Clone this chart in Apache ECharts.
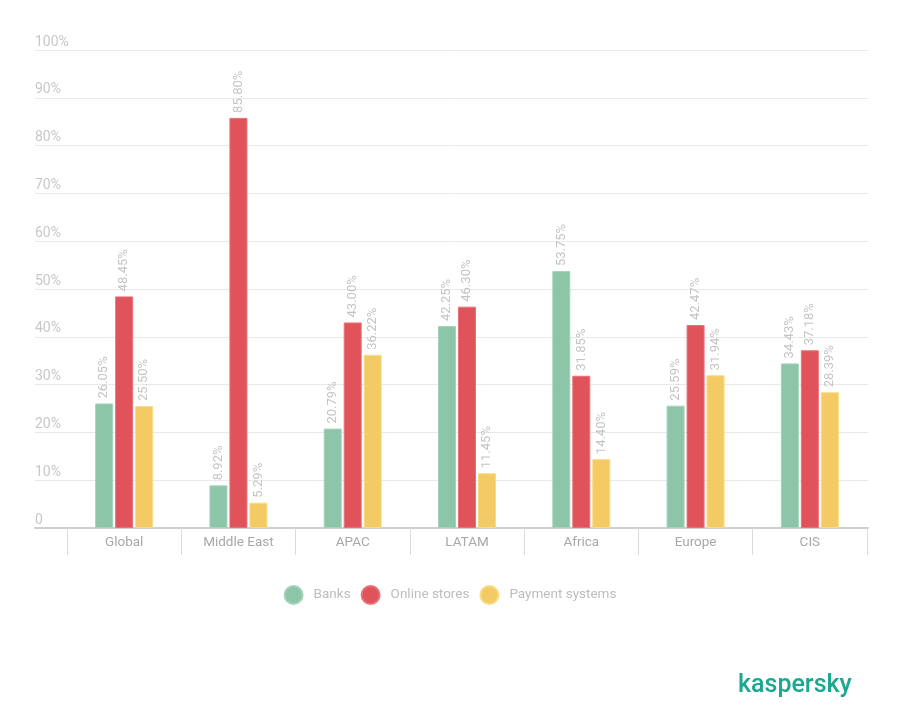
<!DOCTYPE html>
<html>
<head>
<meta charset="utf-8">
<script src="https://cdn.jsdelivr.net/npm/echarts@6/dist/echarts.min.js"></script>
<style>
html,body{margin:0;padding:0;background:#fff;}
#chart{width:900px;height:714px;}
</style>
</head>
<body>
<div id="chart"></div>
<script>
var regions = ['Global', 'Middle East', 'APAC', 'LATAM', 'Africa', 'Europe', 'CIS'];
var banks = [26.05, 8.92, 20.79, 42.25, 53.75, 25.59, 34.43];
var onlineStores = [48.45, 85.80, 43.00, 46.30, 31.85, 42.47, 37.18];
var paymentSystems = [25.50, 5.29, 36.22, 11.45, 14.40, 31.94, 28.39];

var myChart = echarts.init(document.getElementById('chart'));

function barSeries(name, data, color, border) {
    return {
        name: name,
        type: 'bar',
        xAxisIndex: 1,
        yAxisIndex: 1,
        barWidth: 18,
        barGap: '11%',
        itemStyle: { color: color, borderColor: border, borderWidth: 1 },
        label: {
            show: true,
            position: 'top',
            rotate: 90,
            align: 'left',
            verticalAlign: 'middle',
            distance: 5,
            color: '#c4c4c4',
            fontSize: 13,
            fontFamily: 'Roboto',
            formatter: function (p) { return p.value.toFixed(2) + '%'; }
        },
        data: data
    };
}

var option = {
    backgroundColor: '#fff',
    animation: false,
    textStyle: { fontFamily: 'Roboto' },
    grid: [
        { left: 35, right: 32, top: 50, bottom: 186 },   // grid lines + y labels
        { left: 67, right: 33, top: 50, bottom: 186 }    // bars
    ],
    legend: {
        bottom: 104,
        left: 'center',
        icon: 'circle',
        itemWidth: 18,
        itemHeight: 18,
        itemGap: 10,
        textStyle: { color: '#bdbdbd', fontSize: 13.5, fontFamily: 'Roboto', padding: [0, 0, 0, 6] },
        data: ['Banks', 'Online stores', 'Payment systems']
    },
    xAxis: [
        {
            gridIndex: 0,
            type: 'value',
            min: 0,
            max: 1,
            axisLine: { show: true, lineStyle: { color: '#cfcfcf', width: 2 } },
            axisTick: { show: false },
            axisLabel: { show: false },
            splitLine: { show: false }
        },
        {
            gridIndex: 1,
            type: 'category',
            data: regions,
            axisLine: { show: false },
            axisTick: { show: true, length: 27, lineStyle: { color: '#dcdcdc', width: 1 } },
            axisLabel: { color: '#a8a8a8', fontSize: 13.5, margin: 8, fontFamily: 'Roboto' },
            splitLine: { show: false }
        }
    ],
    yAxis: [
        {
            gridIndex: 0,
            type: 'value',
            min: 0,
            max: 100,
            interval: 10,
            axisLine: { show: false },
            axisTick: { show: false },
            axisLabel: {
                inside: true,
                verticalAlign: 'bottom',
                margin: 0,
                padding: [0, 0, 1, 0],
                color: '#c8c8c8',
                fontSize: 14,
                fontFamily: 'Roboto',
                formatter: function (v) { return v === 0 ? '0' : v + '%'; }
            },
            splitLine: { show: true, lineStyle: { color: '#e9e9e9', width: 1 } }
        },
        {
            gridIndex: 1,
            type: 'value',
            min: 0,
            max: 100,
            show: false
        }
    ],
    graphic: [
        {
            type: 'text',
            left: 738,
            top: 673,
            style: {
                text: 'kaspersky',
                fill: '#1aa88f',
                fontSize: 25,
                fontWeight: 500,
                fontFamily: 'Roboto'
            }
        }
    ],
    series: [
        barSeries('Banks', banks, '#8dc5a9', '#a3d3ba'),
        barSeries('Online stores', onlineStores, '#e0535b', '#ea7077'),
        barSeries('Payment systems', paymentSystems, '#f3ca64', '#f8dc84')
    ]
};

myChart.setOption(option);
</script>
</body>
</html>
